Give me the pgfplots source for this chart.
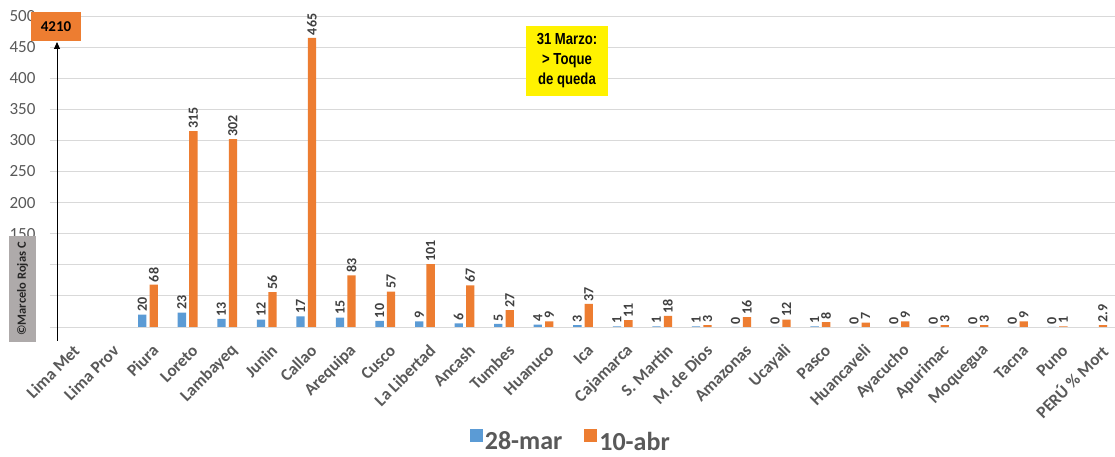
\documentclass[border=0pt]{standalone}
\usepackage{fontspec}
\setmainfont{Carlito}
\newfontfamily\narrowfont{Liberation Sans}
\usepackage{pgfplots}
\pgfplotsset{compat=1.18}
\usetikzlibrary{arrows.meta}
\definecolor{cblue}{HTML}{5B9BD5}
\definecolor{corange}{HTML}{ED7D31}
\definecolor{tgray}{HTML}{595959}
\definecolor{lgray}{HTML}{404040}
\definecolor{gridc}{HTML}{D9D9D9}
\definecolor{wm}{HTML}{AEAAAA}
\begin{document}
\begin{tikzpicture}
\path[use as bounding box] (0pt,0pt) rectangle (1115pt,457pt);
\fill[white] (0pt,0pt) rectangle (1115pt,457pt);
\begin{axis}[
  at={(50pt,130pt)}, anchor=south west, scale only axis,
  width=1065pt, height=311pt,
  xmin=-0.48, xmax=26.45, ymin=0, ymax=500,
  ybar, bar width=0.21,
  ytick={0,50,...,500},
  xtick={0,...,26},
  xticklabels={Lima Met, Lima Prov, Piura, Loreto, Lambayeq, Junin, Callao, Arequipa, Cusco, La Libertad, Ancash, Tumbes, Huanuco, Ica, Cajamarca, S. Martin, M. de Dios, Amazonas, Ucayali, Pasco, Huancaveli, Ayacucho, Apurimac, Moquegua, Tacna, Puno, PERÚ \% Mort},
  ymajorgrids, grid style={gridc, line width=0.8pt},
  axis line style={draw=none}, major tick length=0pt,
  /pgf/number format/assume math mode=true,
  yticklabel style={font=\fontsize{17}{17}\selectfont, text=tgray, xshift=-11pt},
  xticklabel style={rotate=45, anchor=east, font=\fontsize{17}{17}\selectfont\bfseries, text=tgray, yshift=-20pt, xshift=-6pt},
  nodes near coords,
  nodes near coords style={rotate=90, anchor=west, font=\fontsize{14}{14}\selectfont\bfseries, text=lgray, inner sep=2.5pt},
  legend style={at={(0.489,-0.367)}, anchor=center, draw=none, fill=none, legend columns=2,
    font=\fontsize{26}{26}\selectfont\bfseries, text=tgray,
    /tikz/every even column/.append style={column sep=20pt}},
  legend image code/.code={\fill[#1] (0pt,0pt) rectangle (13pt,13pt);},
  clip=false,
]
\addplot[bar shift=-0.145, fill=cblue, draw=none] coordinates {
(2,20) (3,23) (4,13) (5,12) (6,17) (7,15) (8,10) (9,9) (10,6) (11,5) (12,4) (13,3)
(14,1) (15,1) (16,1) (17,0) (18,0) (19,1) (20,0) (21,0) (22,0) (23,0) (24,0) (25,0)};
\addplot[bar shift=0.145, fill=corange, draw=none] coordinates {
(2,68) (3,315) (4,302) (5,56) (6,465) (7,83) (8,57) (9,101) (10,67) (11,27) (12,9) (13,37)
(14,11) (15,18) (16,3) (17,16) (18,12) (19,8) (20,7) (21,9) (22,3) (23,3) (24,9) (25,1) (26,2.9)};
\legend{28-mar, 10-abr}
\end{axis}
% arrow to off-scale value
\draw[-{Triangle[width=6pt,length=7pt]}, line width=0.9pt] (57pt,116pt) -- (57pt,415pt);
\node[fill=corange, minimum width=50pt, minimum height=29pt, inner sep=0pt,
  font=\fontsize{15}{15}\selectfont\bfseries, text=black] at (56pt,430.5pt) {4210};
% yellow note
\node[fill=yellow, minimum width=82pt, minimum height=70pt, inner sep=0pt, align=center,
  font=\narrowfont\fontsize{16}{20}\selectfont\bfseries, text=black] at (567pt,396pt)
  {\scalebox{0.82}[1]{31 Marzo:}\\ \scalebox{0.82}[1]{> Toque}\\ \scalebox{0.82}[1]{de queda}};
% watermark
\node[fill=wm, minimum width=27pt, minimum height=106pt, inner sep=0pt] at (22.5pt,168pt) {};
\node[rotate=90, font=\fontsize{12.5}{12.5}\selectfont\bfseries, text=black!85] at (22.5pt,168pt) {©Marcelo Rojas C};
\end{tikzpicture}
\end{document}
